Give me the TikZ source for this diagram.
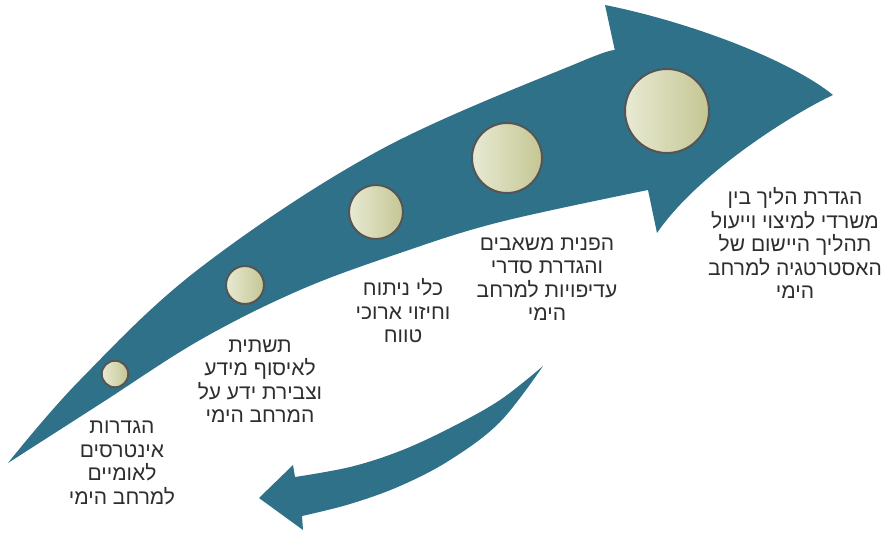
\documentclass[tikz,border=0pt]{standalone}
\usepackage{fontspec}
\newfontfamily\hebfont[Script=Hebrew]{Liberation Sans}
\TeXXeTstate=1
\newcommand{\heb}[1]{\beginR #1\endR}
\definecolor{arrowteal}{HTML}{2F7189}
\definecolor{ballleft}{HTML}{E8EAD3}
\definecolor{ballright}{HTML}{C4C693}
\definecolor{balledge}{HTML}{555555}
\definecolor{txt}{HTML}{2E2E2E}
\tikzset{
  ball/.style={circle, draw=balledge, line width=2pt, left color=ballleft, right color=ballright, inner sep=0pt},
  label/.style={align=center, text=txt, font=\hebfont\fontsize{21}{23.5}\selectfont, inner sep=0pt},
  band/.style={fill=arrowteal}
}
\begin{document}
\begin{tikzpicture}[x=1pt,y=-1pt]
\useasboundingbox (0,0) rectangle (886,533);
% main arrow
\fill[band]
  plot[smooth, tension=0.6] coordinates {(8,463) (80,380) (200,268) (380,150) (580,62) (615,51)}
  -- (605,5) .. controls (690,22) and (790,60) .. (833,95)
  .. controls (800,110) and (700,170) .. (657,233)
  -- plot[smooth, tension=0.6] coordinates {(648,190) (500,222) (400,253) (300,290) (200,340) (100,404) (8,463)}
  -- cycle;
% return arrow
\fill[band]
  plot[smooth, tension=0.6] coordinates {(543,366) (500,400) (450,428) (400,451) (350,467) (295,477)}
  -- (293,465) -- (259,498) -- (303,530)
  -- plot[smooth, tension=0.6] coordinates {(302,516) (350,504) (400,486) (450,460) (500,422) (543,366)}
  -- cycle;
% balls
\node[ball, minimum size=26.6pt] (b1) at (115,374) {};
\node[ball, minimum size=38pt] (b2) at (245,285) {};
\node[ball, minimum size=54pt] (b3) at (376,212) {};
\node[ball, minimum size=70pt] (b4) at (507,158) {};
\node[ball, minimum size=84pt] (b5) at (667,111) {};
% labels
\node[label] (t1) at (122,463) {\heb{הגדרות}\\\heb{אינטרסים}\\\heb{לאומיים}\\\heb{למרחב הימי}};
\node[label] (t2) at (260,381) {\heb{תשתית}\\\heb{לאיסוף מידע}\\\heb{וצבירת ידע על}\\\heb{המרחב הימי}};
\node[label] (t3) at (403,311) {\heb{כלי ניתוח}\\\heb{וחיזוי ארוכי}\\\heb{טווח}};
\node[label] (t4) at (547,279) {\heb{הפנית משאבים}\\\heb{והגדרת סדרי}\\\heb{עדיפויות למרחב}\\\heb{הימי}};
\node[label] (t5) at (795,243) {\heb{הגדרת הליך בין}\\\heb{משרדי למיצוי וייעול}\\\heb{תהליך היישום של}\\\heb{האסטרטגיה למרחב}\\\heb{הימי}};
\end{tikzpicture}
\end{document}
